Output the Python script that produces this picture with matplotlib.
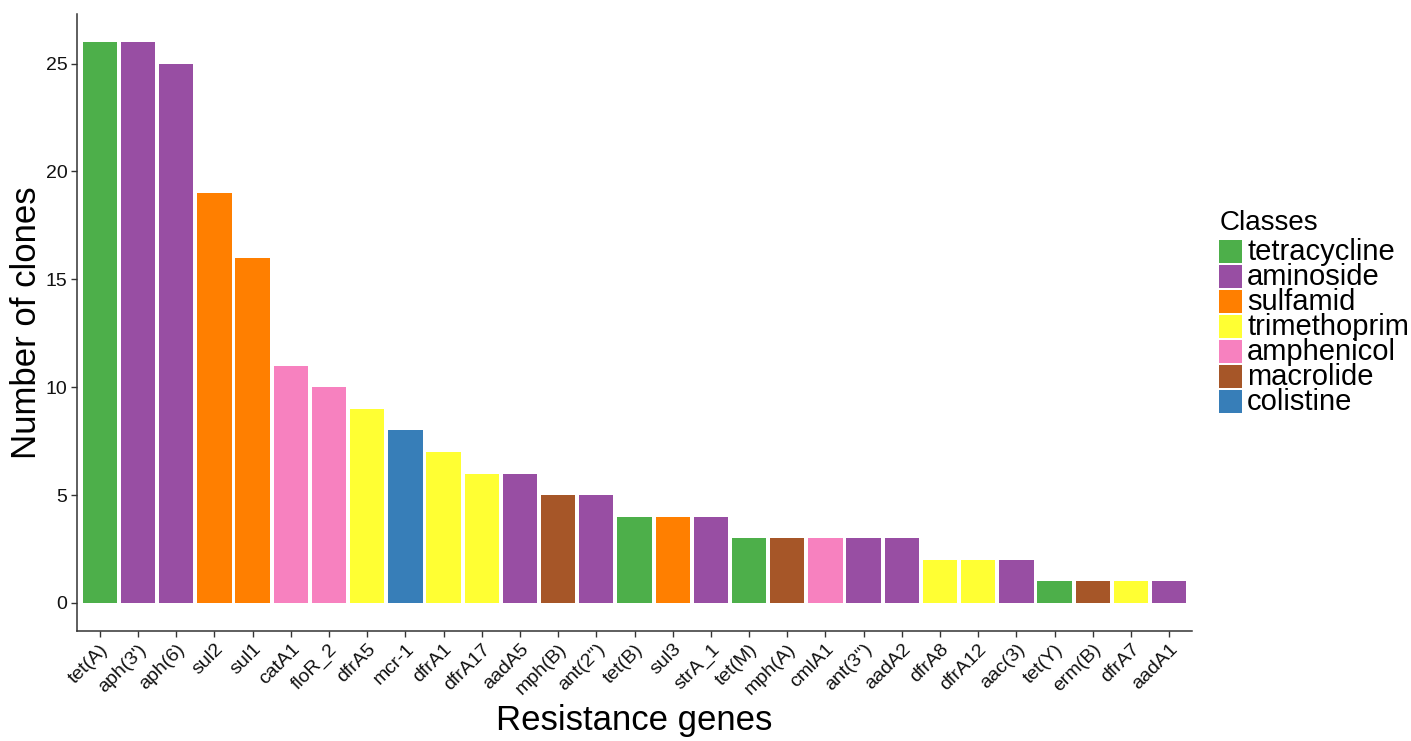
import matplotlib
matplotlib.use("Agg")
import matplotlib.pyplot as plt
from matplotlib.patches import Rectangle

genes = ["tet(A)", "aph(3')", "aph(6)", "sul2", "sul1", "catA1", "floR_2", "dfrA5",
         "mcr-1", "dfrA1", "dfrA17", "aadA5", "mph(B)", "ant(2'')", "tet(B)", "sul3",
         "strA_1", "tet(M)", "mph(A)", "cmlA1", "ant(3'')", "aadA2", "dfrA8", "dfrA12",
         "aac(3)", "tet(Y)", "erm(B)", "dfrA7", "aadA1"]
counts = [26, 26, 25, 19, 16, 11, 10, 9, 8, 7, 6, 6, 5, 5, 4, 4, 4, 3, 3, 3, 3, 3,
          2, 2, 2, 1, 1, 1, 1]
classes = ["tetracycline", "aminoside", "aminoside", "sulfamid", "sulfamid",
           "amphenicol", "amphenicol", "trimethoprim", "colistine", "trimethoprim",
           "trimethoprim", "aminoside", "macrolide", "aminoside", "tetracycline",
           "sulfamid", "aminoside", "tetracycline", "macrolide", "amphenicol",
           "aminoside", "aminoside", "trimethoprim", "trimethoprim", "aminoside",
           "tetracycline", "macrolide", "trimethoprim", "aminoside"]
class_order = ["tetracycline", "aminoside", "sulfamid", "trimethoprim",
               "amphenicol", "macrolide", "colistine"]
class_colors = ["#4DAF4A", "#984EA3", "#FF7F00", "#FFFF33", "#F781BF",
                "#A65628", "#377EB8"]
yticks = [0, 5, 10, 15, 20, 25]

plt.rcParams['font.family'] = ['Liberation Sans', 'DejaVu Sans']

W, H = 1411, 741
fig = plt.figure(figsize=(W / 100, H / 100), dpi=100)
ax = fig.add_axes([77 / W, 1 - 631 / H, (1192 - 77) / W, (631 - 14) / H])

cmap = dict(zip(class_order, class_colors))
x = list(range(len(genes)))
ax.bar(x, counts, width=0.9, color=[cmap[c] for c in classes], edgecolor='none')

ax.set_xlim(-0.6, len(genes) - 0.4)
ax.set_ylim(-1.3, 27.3)
ax.set_yticks(yticks)
ax.set_yticklabels([str(v) for v in yticks], fontsize=14, color='#111111')
ax.set_xticks(x)
ax.set_xticklabels(genes, rotation=45, ha='right', va='top', fontsize=14,
                   color='#111111', rotation_mode='anchor')
for s in ['top', 'right']:
    ax.spines[s].set_visible(False)
for s in ['left', 'bottom']:
    ax.spines[s].set_color('#333333')
    ax.spines[s].set_linewidth(1.1)
ax.tick_params(axis='both', length=4, width=1, color='#333333', pad=3)
ax.set_ylabel("Number of clones", fontsize=25, labelpad=2)
ax.set_xlabel("Resistance genes", fontsize=25, labelpad=4)

# legend
fig.text(1220 / W, 1 - 223 / H, "Classes", fontsize=20, va='center', ha='left')
top = 240
step = 25
for i, (name, col) in enumerate(zip(class_order, class_colors)):
    y0 = top + i * step
    fig.patches.append(Rectangle((1219 / W, 1 - (y0 + 23) / H), 23 / W, 23 / H,
                                 transform=fig.transFigure, facecolor=col,
                                 edgecolor='none'))
    fig.text(1247 / W, 1 - (y0 + 12) / H, name, fontsize=21, va='center', ha='left')

fig.savefig("out.png", dpi=100)
